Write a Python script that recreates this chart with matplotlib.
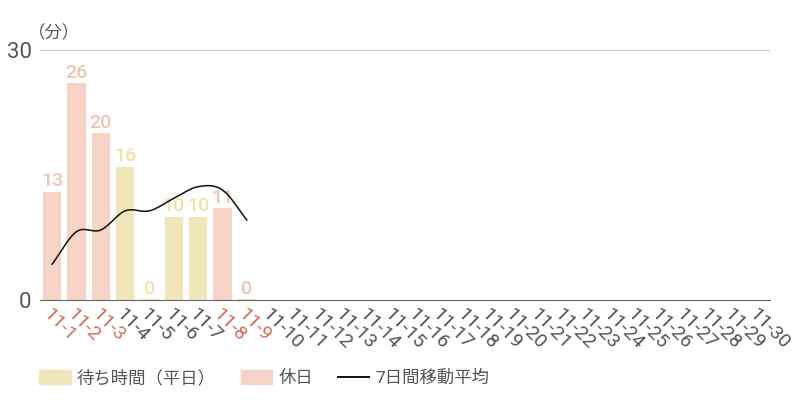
import matplotlib.pyplot as plt
from matplotlib.patches import Patch
from matplotlib.lines import Line2D
import numpy as np

plt.rcParams['font.family'] = ['Roboto', 'Noto Sans CJK JP', 'DejaVu Sans']

# data
days = ['11-%d' % d for d in range(1, 31)]
wait_weekday = [None, None, None, 16, 0, 10, 10, None, None]
wait_holiday = [13, 26, 20, None, None, None, None, 11, 0]
moving_avg = [4.3, 8.2, 8.4, 10.7, 10.7, 12.2, 13.6, 13.2, 9.6]
holiday_days = ['11-1', '11-2', '11-3', '11-8', '11-9']

col_weekday = '#f1e6b9'
col_holiday = '#f6d3c7'
lab_weekday = '#efe2b0'
lab_holiday = '#f0c3b3'


def catmull_rom(x, y, n=20):
    # smooth curve through the points for drawing
    x = np.asarray(x, float)
    y = np.asarray(y, float)
    px = np.concatenate([[2 * x[0] - x[1]], x, [2 * x[-1] - x[-2]]])
    py = np.concatenate([[2 * y[0] - y[1]], y, [2 * y[-1] - y[-2]]])
    xs, ys = [], []
    t = np.linspace(0, 1, n)
    for i in range(1, len(px) - 2):
        for p, out in ((px, xs), (py, ys)):
            p0, p1, p2, p3 = p[i - 1], p[i], p[i + 1], p[i + 2]
            out.extend(0.5 * (2 * p1 + (-p0 + p2) * t
                              + (2 * p0 - 5 * p1 + 4 * p2 - p3) * t ** 2
                              + (-p0 + 3 * p1 - 3 * p2 + p3) * t ** 3))
    return np.array(xs), np.array(ys)


fig = plt.figure(figsize=(8, 4), dpi=100)
ax = fig.add_axes([0.05, 0.25, 0.9125, 0.625])

x = np.arange(len(days))
for i, (wk, hd) in enumerate(zip(wait_weekday, wait_holiday)):
    if wk is not None:
        val, col, lc = wk, col_weekday, lab_weekday
    else:
        val, col, lc = hd, col_holiday, lab_holiday
    ax.bar(i, max(val, 0.12), width=0.74, color=col, zorder=2)
    ax.text(i, val + 0.2, str(val), ha='center', va='bottom',
            color=lc, fontsize=14, fontweight='medium')

mx, my = catmull_rom(x[:len(moving_avg)], moving_avg)
ax.plot(mx, my, color='#111111', lw=1.1, zorder=3)

ax.set_xlim(-0.5, len(days) - 0.5)
ax.set_ylim(0, 30)
ax.set_yticks([0, 30])
ax.set_yticklabels(['0', '30'], fontsize=16, color='#555555')
ax.axhline(30, color='#cccccc', lw=1, zorder=1)

ax.set_xticks(x)
ax.set_xticklabels(days, rotation=-45, ha='left', va='top',
                   rotation_mode='anchor', fontsize=14)
for lbl in ax.get_xticklabels():
    lbl.set_color('#d2705a' if lbl.get_text() in holiday_days else '#555555')
ax.tick_params(axis='x', length=0, pad=4)
ax.tick_params(axis='y', length=0, pad=6)

for s in ['top', 'right', 'left']:
    ax.spines[s].set_visible(False)
ax.spines['bottom'].set_color('#666666')

ax.text(-0.016, 1.035, '（分）', transform=ax.transAxes, fontsize=12.5,
        color='#555555', ha='left', va='bottom')

handles = [Patch(color=col_weekday), Patch(color=col_holiday),
           Line2D([], [], color='#111111', lw=1.4)]
fig.legend(handles, ['待ち時間（平日）', '休日', '7日間移動平均'],
           loc='lower left', bbox_to_anchor=(0.032, 0.0), ncol=3,
           frameon=False, fontsize=12.5, handlelength=1.8, handleheight=0.87,
           columnspacing=1.45, handletextpad=0.35, labelcolor='#555555',
           borderaxespad=0.4)

fig.savefig('out.png', dpi=100)
